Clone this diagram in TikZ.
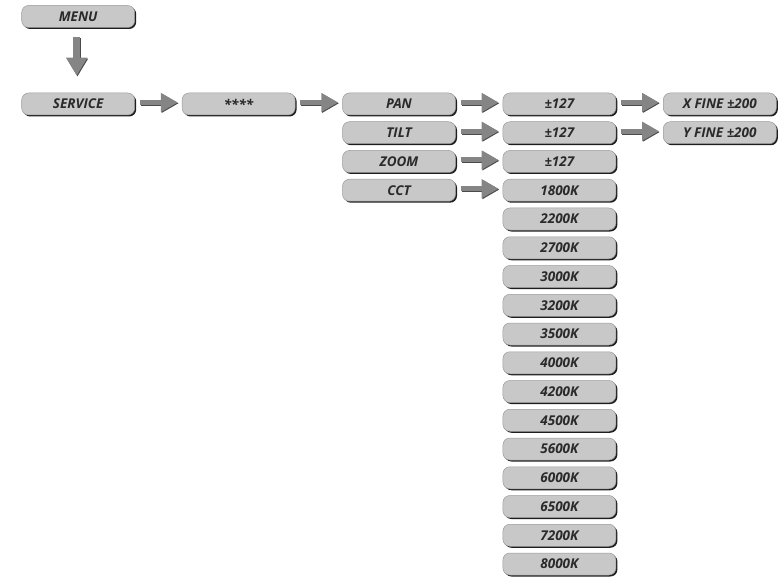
\documentclass[tikz,border=0pt]{standalone}
\usepackage{fontspec}
\setsansfont{Open Sans}
\usetikzlibrary{arrows.meta,shadows}
\definecolor{boxfill}{HTML}{C8C8C8}
\definecolor{boxline}{HTML}{9A9A9A}
\definecolor{boxshadow}{HTML}{1E1E1E}
\definecolor{txt}{HTML}{2A2A2A}
\definecolor{arrfill}{HTML}{858585}
\definecolor{arrdark}{HTML}{4A4A4A}
\tikzset{
  menubox/.style={draw=boxline, line width=0.5pt, fill=boxfill, rounded corners=7pt,
    minimum width=113pt, minimum height=22pt, inner sep=0pt,
    general shadow={fill=boxshadow, shadow xshift=1.5pt, shadow yshift=-1.5pt},
    font=\sffamily\bfseries\itshape\fontsize{13.5}{14}\selectfont, text=txt},
  harr/.style={line width=5pt, draw=arrfill, -{Triangle[width=18pt,length=17pt]},
    shorten <=5pt, shorten >=4pt},
  harrsh/.style={harr, draw=arrdark, fill=arrdark,
    transform canvas={shift={(0.8pt,-0.8pt)}}},
  varr/.style={line width=7pt, draw=arrfill, -{Triangle[width=20pt,length=18pt]},
    shorten <=9.5pt, shorten >=17pt},
  varrsh/.style={varr, draw=arrdark, fill=arrdark,
    transform canvas={shift={(0.8pt,-0.8pt)}}},
}
\begin{document}
\begin{tikzpicture}[x=1pt,y=-1pt]
\useasboundingbox (0,0) rectangle (783,577);
\def\cA{78.2}\def\cB{238.6}\def\cC{399}\def\cD{559.4}\def\cE{719.8}
\node[menubox] (menu) at (\cA,16.5) {MENU};
\node[menubox] (service) at (\cA,104) {SERVICE};
\node[menubox] (stars) at (\cB,104) {****};
\node[menubox] (pan) at (\cC,104) {PAN};
\node[menubox] (tilt) at (\cC,132.75) {TILT};
\node[menubox] (zoom) at (\cC,161.5) {ZOOM};
\node[menubox] (cct) at (\cC,190.25) {CCT};
\node[menubox] (panv) at (\cD,104) {±127};
\node[menubox] (tiltv) at (\cD,132.75) {±127};
\node[menubox] (zoomv) at (\cD,161.5) {±127};
\foreach \t [count=\i from 0] in {1800K,2200K,2700K,3000K,3200K,3500K,4000K,4200K,4500K,5600K,6000K,6500K,7200K,8000K}
  \node[menubox] (k\i) at (\cD,{190.25+28.75*\i}) {\t};
\node[menubox] (xfine) at (\cE,104) {X FINE ±200};
\node[menubox] (yfine) at (\cE,132.75) {Y FINE ±200};
% vertical arrow
\draw[varrsh] ([xshift=-1.5pt]menu.south) -- ([xshift=-1.5pt]service.north);
\draw[varr] ([xshift=-1.5pt]menu.south) -- ([xshift=-1.5pt]service.north);
% horizontal arrows
\foreach \a/\b in {service/stars,stars/pan,pan/panv,tilt/tiltv,zoom/zoomv,cct/k0,panv/xfine,tiltv/yfine}{
  \draw[harrsh] ([yshift=1.5pt]\a.east) -- ([yshift=1.5pt]\b.west);
  \draw[harr] ([yshift=1.5pt]\a.east) -- ([yshift=1.5pt]\b.west);
}
\end{tikzpicture}
\end{document}
